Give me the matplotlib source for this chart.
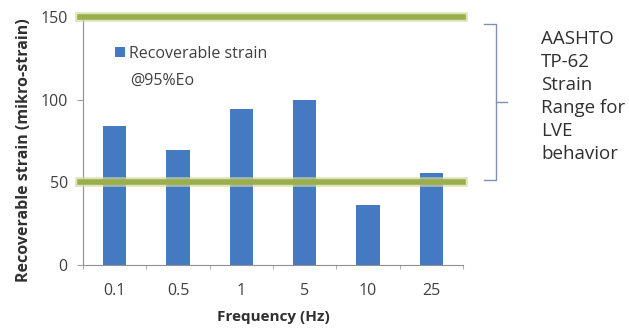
import matplotlib
matplotlib.use("Agg")
import matplotlib.pyplot as plt
from matplotlib.lines import Line2D

categories = ["0.1", "0.5", "1", "5", "10", "25"]
strain = [84, 69.5, 94.5, 100, 36.5, 55.5]
limits = [150, 50]
series_name = "Recoverable strain"
series_note = "@95%Eo"
note = "AASHTO\nTP-62\nStrain\nRange for\nLVE\nbehavior"

plt.rcParams['font.family'] = ['Open Sans', 'DejaVu Sans']

fig = plt.figure(figsize=(6.29, 3.33), dpi=100)
ax = fig.add_axes([0.132, 0.204, 0.604, 0.745])

x = list(range(len(categories)))
ax.bar(x, strain, width=0.37, color='#4579c2', zorder=2, label=series_name)

ax.set_xlim(-0.5, len(categories) - 0.5)
ax.set_ylim(0, 150)
ax.set_yticks([0, 50, 100, 150])
ax.set_xticks(x)
ax.set_xticklabels(categories)
ax.set_xticks([i + 0.5 for i in range(-1, len(categories))], minor=True)
ax.tick_params(axis='x', which='major', length=0, pad=13, labelsize=11.5, colors='#404040')
ax.tick_params(axis='x', which='minor', length=3, color='#a0a0a0')
ax.tick_params(axis='y', length=4, color='#a0a0a0', labelsize=11.5, labelcolor='#404040', pad=7)

for s in ['top', 'right']:
    ax.spines[s].set_visible(False)
for s in ['left', 'bottom']:
    ax.spines[s].set_color('#909090')
    ax.spines[s].set_linewidth(0.8)

for lim in limits:
    ax.axhline(lim, xmin=-0.008, xmax=1.0, color='#cfd9a3', lw=7, zorder=3, clip_on=False, alpha=0.7)
    ax.axhline(lim, xmin=-0.008, xmax=1.0, color='#9bae4c', lw=4, zorder=4, clip_on=False)

ax.set_xlabel("Frequency (Hz)", fontsize=11, fontweight='bold', color='#303030')
ax.xaxis.set_label_coords(0.5, -0.182)
ax.set_ylabel("Recoverable strain (mikro-strain)", fontsize=11.5, fontweight='bold', color='#303030')
ax.yaxis.set_label_coords(-0.134, 0.465)

ax.legend(loc='upper left', bbox_to_anchor=(0.084, 0.885), frameon=False, fontsize=11.5,
          handlelength=0.6, handleheight=0.6, handletextpad=0.3, labelcolor='#404040',
          borderaxespad=0, borderpad=0)
ax.text(0.124, 0.742, series_note, transform=ax.transAxes, ha='left', va='center',
        fontsize=11.5, color='#404040')

# bracket
bc = '#8090b0'
x0, x1 = 484 / 629, 496 / 629
yt, yb = 1 - 24 / 333, 1 - 180 / 333
ym = (yt + yb) / 2
fig.add_artist(Line2D([x0, x1, x1, x0], [yt, yt, yb, yb], color=bc, lw=1))
fig.add_artist(Line2D([x1, 507 / 629], [ym, ym], color=bc, lw=1))

fig.text(541 / 629, 1 - 30 / 333, note, ha='left', va='top', fontsize=13.5, color='#303030', linespacing=1.35)

fig.savefig("out.png", dpi=100)
